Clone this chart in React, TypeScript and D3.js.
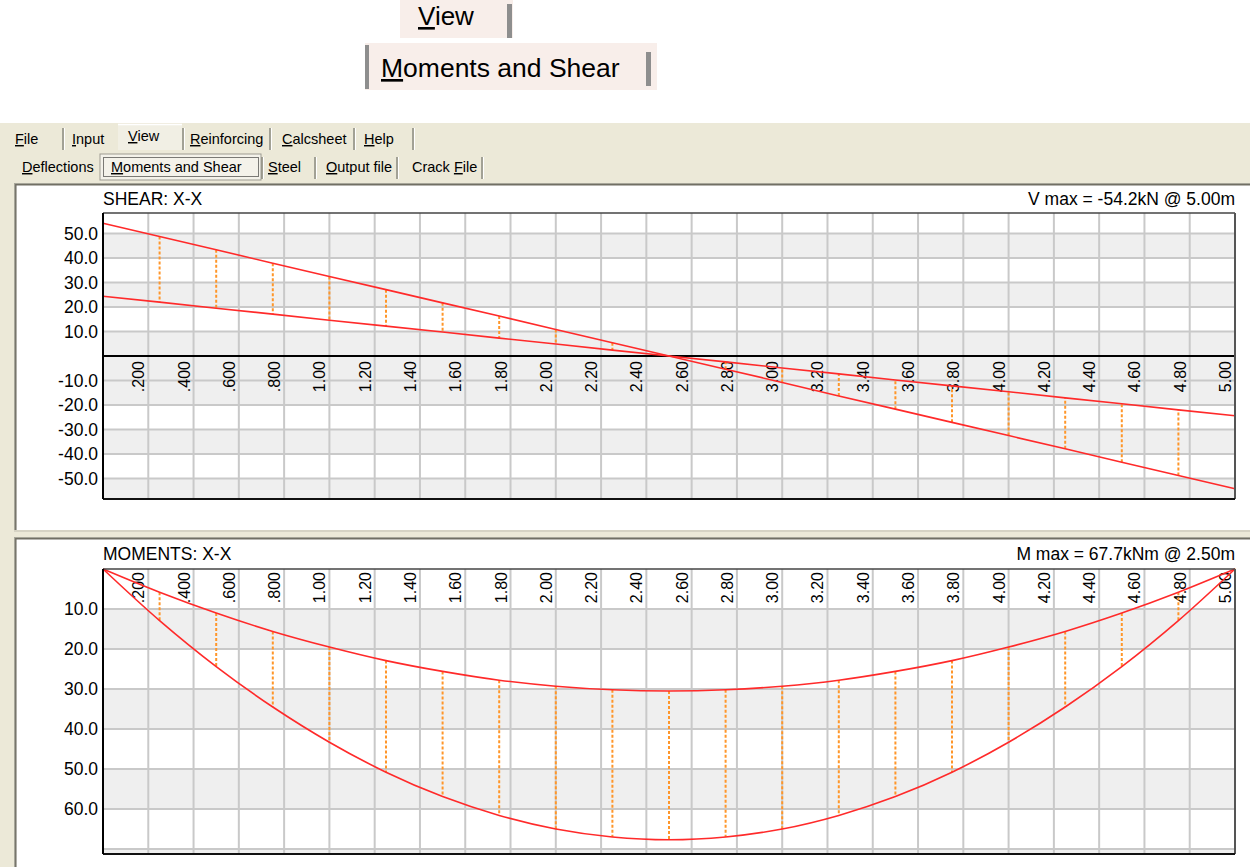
import * as d3 from "d3";

// stations along the beam (m) where the envelope values are read
const stations = [0, 0.25, 0.5, 0.75, 1, 1.25, 1.5, 1.75, 2, 2.25, 2.5, 2.75, 3, 3.25, 3.5, 3.75, 4, 4.25, 4.5, 4.75, 5];

// shear envelope (kN)
const shearOuter = [54.2, 48.8, 43.4, 37.9, 32.5, 27.1, 21.7, 16.3, 10.8, 5.4, 0, -5.4, -10.8, -16.3, -21.7, -27.1, -32.5, -37.9, -43.4, -48.8, -54.2];
const shearInner = [24.4, 22.0, 19.5, 17.1, 14.6, 12.2, 9.8, 7.3, 4.9, 2.4, 0, -2.4, -4.9, -7.3, -9.8, -12.2, -14.6, -17.1, -19.5, -22.0, -24.4];

// moment envelope (kNm)
const momentInner = [0, 5.8, 11.0, 15.6, 19.5, 22.9, 25.6, 27.8, 29.3, 30.2, 30.5, 30.2, 29.3, 27.8, 25.6, 22.9, 19.5, 15.6, 11.0, 5.8, 0];
const momentOuter = [0, 12.9, 24.4, 34.5, 43.3, 50.8, 56.9, 61.6, 65.0, 67.0, 67.7, 67.0, 65.0, 61.6, 56.9, 50.8, 43.3, 34.5, 24.4, 12.9, 0];

// x grid / tick labels
const gridX = [0.2, 0.4, 0.6, 0.8, 1.0, 1.2, 1.4, 1.6, 1.8, 2.0, 2.2, 2.4, 2.6, 2.8, 3.0, 3.2, 3.4, 3.6, 3.8, 4.0, 4.2, 4.4, 4.6, 4.8, 5.0];
const xTickLabels = [".200", ".400", ".600", ".800", "1.00", "1.20", "1.40", "1.60", "1.80", "2.00", "2.20", "2.40", "2.60", "2.80", "3.00", "3.20", "3.40", "3.60", "3.80", "4.00", "4.20", "4.40", "4.60", "4.80", "5.00"];

const shearTicks = [50, 40, 30, 20, 10, -10, -20, -30, -40, -50];
const shearTickLabels = ["50.0", "40.0", "30.0", "20.0", "10.0", "-10.0", "-20.0", "-30.0", "-40.0", "-50.0"];
const shearGridY = [50, 40, 30, 20, 10, -10, -20, -30, -40, -50];
const momentTicks = [10, 20, 30, 40, 50, 60];
const momentTickLabels = ["10.0", "20.0", "30.0", "40.0", "50.0", "60.0"];
const momentGridY = [10, 20, 30, 40, 50, 60, 70];

const menuTabs = ["File", "Input", "View", "Reinforcing", "Calcsheet", "Help"];
const viewTabs = ["Deflections", "Moments and Shear", "Steel", "Output file", "Crack File"];

const FONT = "'Liberation Sans', Arial, sans-serif";
const RED = "#ff2a2a";
const ORANGE = "#ff962a";
const GRID = "#c9c9c9";
const BAND = "#efefef";

type PlotProps = {
  top: number;
  bottom: number;
  yDomain: [number, number];
  title: string;
  maxText: string;
  titleY: number;
  ticks: number[];
  tickLabels: string[];
  gridY: number[];
  bands: [number, number][];
  a: number[];
  b: number[];
  labelTop: number;
  zeroLine: boolean;
  smooth: boolean;
};

const Plot = (p: PlotProps) => {
  const x = d3.scaleLinear().domain([0, 5]).range([103, 1235]);
  const y = d3.scaleLinear().domain(p.yDomain).range([p.bottom, p.top]);
  const line = d3
    .line<number>()
    .x((_, i) => x(stations[i]))
    .y((d) => y(d))
    .curve(p.smooth ? d3.curveCatmullRom : d3.curveLinear);

  return (
    <g fontFamily={FONT}>
      <text x={103} y={p.titleY} fontSize={17.5}>{p.title}</text>
      <text x={1235} y={p.titleY} fontSize={17.5} textAnchor="end">{p.maxText}</text>
      <rect x={103} y={p.top} width={1132} height={p.bottom - p.top} fill="#fff" />
      {p.bands.map(([v0, v1], i) => (
        <rect key={i} x={103} width={1132} y={Math.min(y(v0), y(v1))} height={Math.abs(y(v0) - y(v1))} fill={BAND} />
      ))}
      {gridX.slice(0, -1).map((v) => (
        <line key={v} x1={x(v)} x2={x(v)} y1={p.top} y2={p.bottom} stroke={GRID} strokeWidth={2} />
      ))}
      {p.gridY.map((v) => (
        <line key={v} x1={103} x2={1235} y1={y(v)} y2={y(v)} stroke={GRID} strokeWidth={2} />
      ))}
      {p.ticks.map((v, i) => (
        <text key={v} x={98} y={y(v)} dy="0.36em" fontSize={17.5} textAnchor="end">{p.tickLabels[i]}</text>
      ))}
      {gridX.map((v, i) => (
        <text key={v} transform={`translate(${x(v) - 4},${p.labelTop}) rotate(-90)`} fontSize={16} textAnchor="end">
          {xTickLabels[i]}
        </text>
      ))}
      {p.zeroLine && <line x1={103} x2={1235} y1={y(0)} y2={y(0)} stroke="#000" strokeWidth={2} />}
      {stations.map((s, i) => (
        <line key={s} x1={x(s)} x2={x(s)} y1={y(p.a[i])} y2={y(p.b[i])} stroke={ORANGE} strokeWidth={2} strokeDasharray="3,2" />
      ))}
      <path d={line(p.a) ?? ""} fill="none" stroke={RED} strokeWidth={1.6} />
      <path d={line(p.b) ?? ""} fill="none" stroke={RED} strokeWidth={1.6} />
      <line x1={103} x2={1235} y1={p.top} y2={p.top} stroke="#444" strokeWidth={1.5} />
      <line x1={1235} x2={1235} y1={p.top} y2={p.bottom} stroke="#555" strokeWidth={2} />
      <line x1={103} x2={1235} y1={p.bottom} y2={p.bottom} stroke="#111" strokeWidth={2} />
      <line x1={103} x2={103} y1={p.top} y2={p.bottom} stroke="#000" strokeWidth={2} />
    </g>
  );
};

const Mnemonic = ({ label, x, y, u = 0, size = 14.5 }: { label: string; x: number; y: number; u?: number; size?: number }) => (
  <text x={x} y={y} fontSize={size} fontFamily={FONT}>
    {label.slice(0, u)}
    <tspan textDecoration="underline">{label[u]}</tspan>
    {label.slice(u + 1)}
  </text>
);

const Sep = ({ x, y1, y2 }: { x: number; y1: number; y2: number }) => (
  <g>
    <line x1={x} x2={x} y1={y1} y2={y2} stroke="#8a897f" strokeWidth={1.5} />
    <line x1={x + 1.5} x2={x + 1.5} y1={y1} y2={y2} stroke="#fff" strokeWidth={1} />
  </g>
);

export default function App() {
  const menuX = [15, 72, 128, 190, 282, 364];
  const menuSeps = [63, 183, 270, 354, 413];
  const viewX = [22, 111, 268, 326, 412];
  const viewU = [0, 0, 0, 0, 6];
  const viewSeps = [262, 315, 397, 482];

  return (
    <svg width={1250} height={867} style={{ position: "absolute", left: 0, top: 0, background: "#fff" }}>
      {/* enlarged captions at the top */}
      <rect x={400} y={0} width={113} height={38} fill="#f8eeea" />
      <rect x={507} y={4} width={5} height={34} fill="#8e8e8e" />
      <Mnemonic label="View" x={418} y={25} size={26} />
      <rect x={365} y={43} width={292} height={47} fill="#f8eeea" />
      <rect x={365} y={45} width={4} height={44} fill="#8e8e8e" />
      <rect x={646} y={52} width={5} height={34} fill="#8e8e8e" />
      <Mnemonic label="Moments and Shear" x={381} y={77} size={26.5} />

      {/* window body */}
      <rect x={0} y={122} width={1250} height={745} fill="#ece9d8" />
      <line x1={0} x2={1250} y1={122.5} y2={122.5} stroke="#fff" />
      <rect x={118} y={124} width={64} height={26} fill="#f1efe4" />
      <line x1={118} x2={182} y1={124.5} y2={124.5} stroke="#fff" strokeWidth={1.5} />
      {menuTabs.map((t, i) => (
        <Mnemonic key={t} label={t} x={menuX[i]} y={i === 2 ? 141 : 144} />
      ))}
      {menuSeps.map((s) => (
        <Sep key={s} x={s} y1={128} y2={150} />
      ))}

      <rect x={100} y={154} width={161} height={26} fill="#f4f2ea" stroke="#9d9c92" strokeWidth={1} />
      <rect x={103.5} y={157.5} width={155} height={19} fill="none" stroke="#000" strokeWidth={1} strokeDasharray="1,1" />
      {viewTabs.map((t, i) => (
        <Mnemonic key={t} label={t} x={viewX[i]} y={172} u={viewU[i]} />
      ))}
      {viewSeps.map((s) => (
        <Sep key={s} x={s} y1={157} y2={179} />
      ))}

      {/* shear panel */}
      <rect x={14} y={183} width={1236} height={348} fill="#fff" />
      <line x1={14.5} x2={14.5} y1={183} y2={531} stroke="#a7a69a" />
      <line x1={15.8} x2={15.8} y1={184} y2={531} stroke="#716f64" strokeWidth={1.5} />
      <line x1={14} x2={1250} y1={183.5} y2={183.5} stroke="#a7a69a" />
      <line x1={16} x2={1250} y1={184.8} y2={184.8} stroke="#716f64" strokeWidth={1.5} />
      <line x1={14} x2={1250} y1={531} y2={531} stroke="#d6d3c4" strokeWidth={2} />

      {/* moments panel */}
      <rect x={14} y={537} width={1236} height={330} fill="#fff" />
      <line x1={14.5} x2={14.5} y1={537} y2={867} stroke="#a7a69a" />
      <line x1={15.8} x2={15.8} y1={538} y2={867} stroke="#716f64" strokeWidth={1.5} />
      <line x1={14} x2={1250} y1={537.5} y2={537.5} stroke="#a7a69a" />
      <line x1={16} x2={1250} y1={538.8} y2={538.8} stroke="#716f64" strokeWidth={1.5} />

      <Plot
        top={213}
        bottom={499}
        yDomain={[-58.4, 58.4]}
        title="SHEAR: X-X"
        maxText="V max = -54.2kN @ 5.00m"
        titleY={205}
        ticks={shearTicks}
        tickLabels={shearTickLabels}
        gridY={shearGridY}
        bands={[[50, 40], [30, 20], [10, -20], [-30, -40], [-50, -58.4]]}
        a={shearOuter}
        b={shearInner}
        labelTop={361}
        zeroLine={true}
        smooth={false}
      />
      <Plot
        top={569}
        bottom={854}
        yDomain={[71.25, 0]}
        title="MOMENTS: X-X"
        maxText="M max = 67.7kNm @ 2.50m"
        titleY={560}
        ticks={momentTicks}
        tickLabels={momentTickLabels}
        gridY={momentGridY}
        bands={[[10, 20], [30, 40], [50, 60], [70, 71.25]]}
        a={momentInner}
        b={momentOuter}
        labelTop={572}
        zeroLine={false}
        smooth={true}
      />
    </svg>
  );
}
